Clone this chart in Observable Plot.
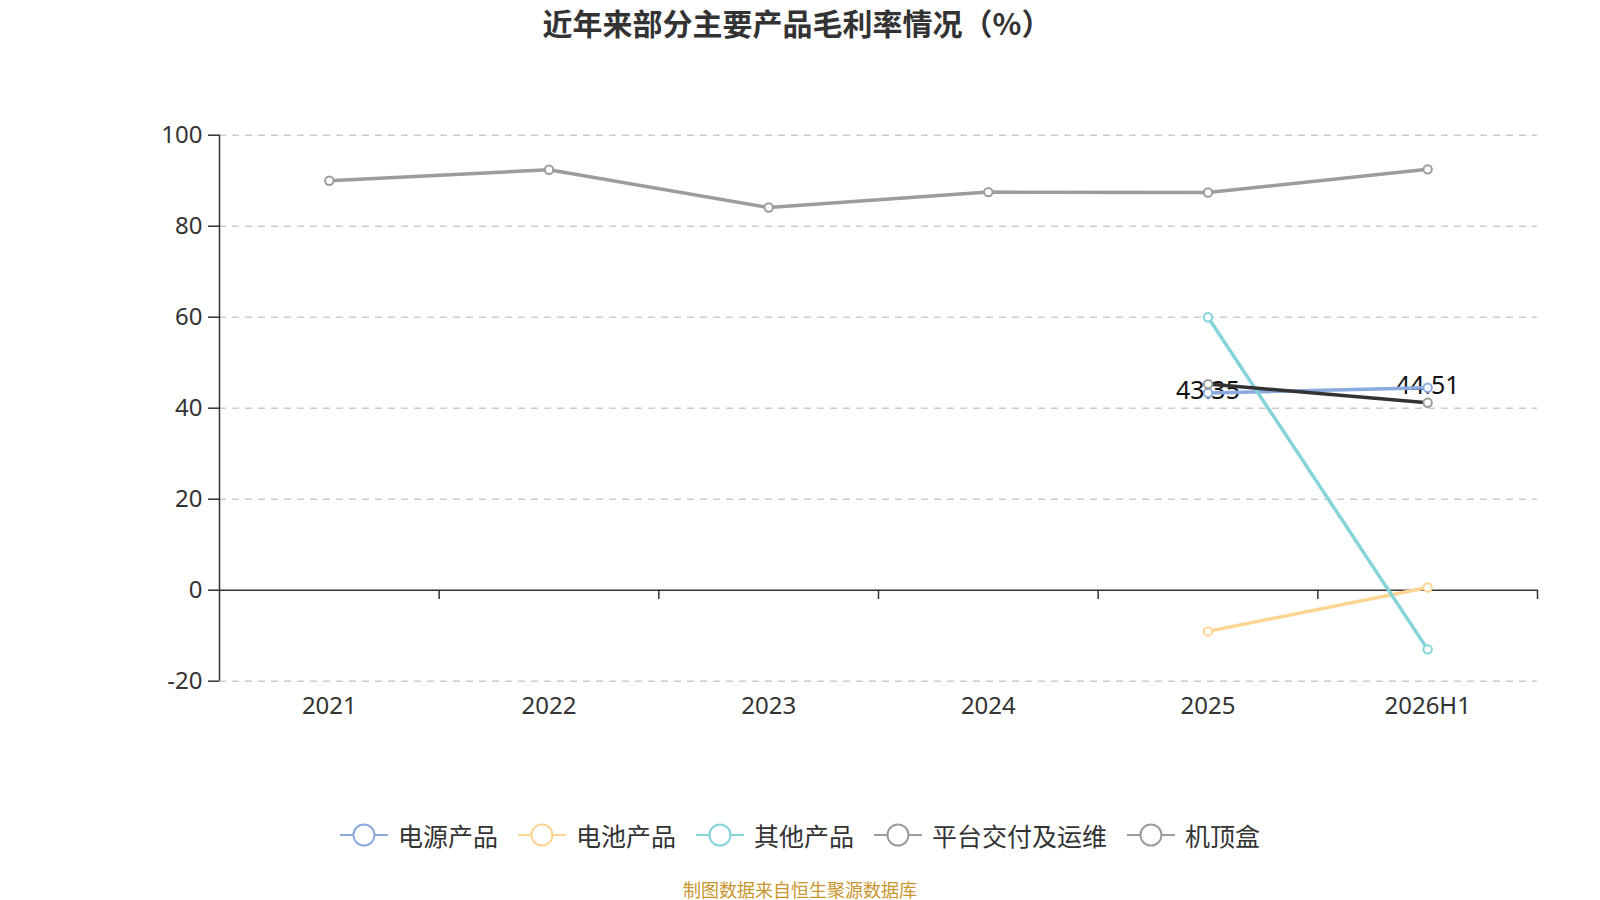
<!DOCTYPE html>
<html>
<head>
<meta charset="utf-8">
<script src="https://cdn.jsdelivr.net/npm/d3@7"></script>
<script src="https://cdn.jsdelivr.net/npm/@observablehq/plot@0.6"></script>
<style>
  html, body { margin: 0; padding: 0; background: #fff; }
  #wrap { position: relative; width: 1600px; height: 900px; font-family: "Noto Sans", "Noto Sans CJK SC", sans-serif; }
  #chart { position: absolute; left: 0; top: 0; }
  #title { position: absolute; left: 797px; top: 22px; transform: translate(-50%, -50%); font-size: 30px; font-weight: bold; color: #333; white-space: nowrap; font-family: "Noto Sans CJK SC", sans-serif; }
  #legend { position: absolute; left: 800px; top: 835px; transform: translate(-50%, -50%); display: flex; align-items: center; white-space: nowrap; }
  .item { display: flex; align-items: center; margin: 0 10px; }
  .item span { font-size: 25px; color: #333; margin-left: 10px; font-family: "Noto Sans CJK SC", sans-serif; }
  #source { position: absolute; left: 800px; top: 889px; transform: translate(-50%, -50%); font-size: 18px; color: #c8962c; white-space: nowrap; font-family: "Noto Sans CJK SC", sans-serif; }
</style>
</head>
<body>
<div id="wrap">
  <div id="chart"></div>
  <div id="title"></div>
  <div id="legend"></div>
  <div id="source"></div>
</div>
<script>
const titleText = "近年来部分主要产品毛利率情况（%）";
const sourceText = "制图数据来自恒生聚源数据库";
const years = ["2021", "2022", "2023", "2024", "2025", "2026H1"];
const seriesNames = ["电源产品", "电池产品", "其他产品", "平台交付及运维", "机顶盒"];
const power = [null, null, null, null, 43.35, 44.51];
const battery = [null, null, null, null, -9.05, 0.6];
const other = [null, null, null, null, 60.0, -13.0];
const platform = [90.0, 92.4, 84.1, 87.5, 87.4, 92.5];
const stb = [null, null, null, null, 45.3, 41.2];
const yTicks = [-20, 0, 20, 40, 60, 80, 100];

const lineColors = ["#8aa9de", "#fdd590", "#85d4d8", "#9c9c9c", "#333333"];
const dotColors = ["#8aa9de", "#fdd590", "#85d4d8", "#9c9c9c", "#9c9c9c"];
const legendColors = ["#8aa9de", "#fdd590", "#85d4d8", "#9c9c9c", "#9c9c9c"];
const allSeries = [power, battery, other, platform, stb];

const toRows = (vals) => vals.map((v, i) => ({i, v})).filter(d => d.v != null);
const bounds = years.map((_, i) => i + 0.5);

const marks = [
  Plot.gridY(yTicks.filter(t => t !== 0), {stroke: "#cccccc", strokeOpacity: 1, strokeWidth: 1.5, strokeDasharray: "7,6"}),
  Plot.ruleY([0], {stroke: "#333", strokeWidth: 1.5}),
  Plot.ruleX([-0.5], {y1: -20, y2: 100, stroke: "#333", strokeWidth: 1.5}),
  Plot.ruleX(bounds, {x: d => d, y1: 0, y2: -2.05, stroke: "#333", strokeWidth: 1.5}),
  Plot.axisY({ticks: yTicks, tickFormat: d => String(d), tickSize: 11, tickPadding: 6, fontSize: 24, color: "#333", stroke: "#333", strokeWidth: 1.5, label: null}),
  Plot.axisX({ticks: years.map((_, i) => i), tickFormat: i => years[i], tickSize: 0, tickPadding: 16, fontSize: 24, color: "#333", label: null}),
  Plot.text(toRows(power), {x: "i", y: "v", text: d => d.v.toFixed(2), fontSize: 25, fill: "#111", dy: -2})
];
allSeries.forEach((s, k) => {
  const rows = toRows(s);
  marks.push(Plot.line(rows, {x: "i", y: "v", stroke: lineColors[k], strokeWidth: 3.5}));
  marks.push(Plot.dot(rows, {x: "i", y: "v", r: 4.2, fill: "#fff", stroke: dotColors[k], strokeWidth: 2}));
});

const chart = Plot.plot({
  width: 1600,
  height: 900,
  marginLeft: 219,
  marginRight: 63,
  marginTop: 134.7,
  marginBottom: 219.3,
  style: {fontFamily: "'Noto Sans', 'Noto Sans CJK SC', sans-serif", background: "#fff", overflow: "visible"},
  x: {domain: [-0.5, years.length - 0.5], axis: null},
  y: {domain: [-20, 100], axis: null},
  marks
});
document.getElementById("chart").appendChild(chart);

document.getElementById("title").textContent = titleText;
document.getElementById("source").textContent = sourceText;
const legend = document.getElementById("legend");
seriesNames.forEach((name, k) => {
  const item = document.createElement("div");
  item.className = "item";
  const c = legendColors[k];
  item.innerHTML = `<svg width="48" height="26"><line x1="0" y1="13" x2="48" y2="13" stroke="${c}" stroke-width="2"/><circle cx="24" cy="13" r="10.5" fill="#fff" stroke="${c}" stroke-width="2"/></svg><span></span>`;
  item.querySelector("span").textContent = name;
  legend.appendChild(item);
});
</script>
</body>
</html>
